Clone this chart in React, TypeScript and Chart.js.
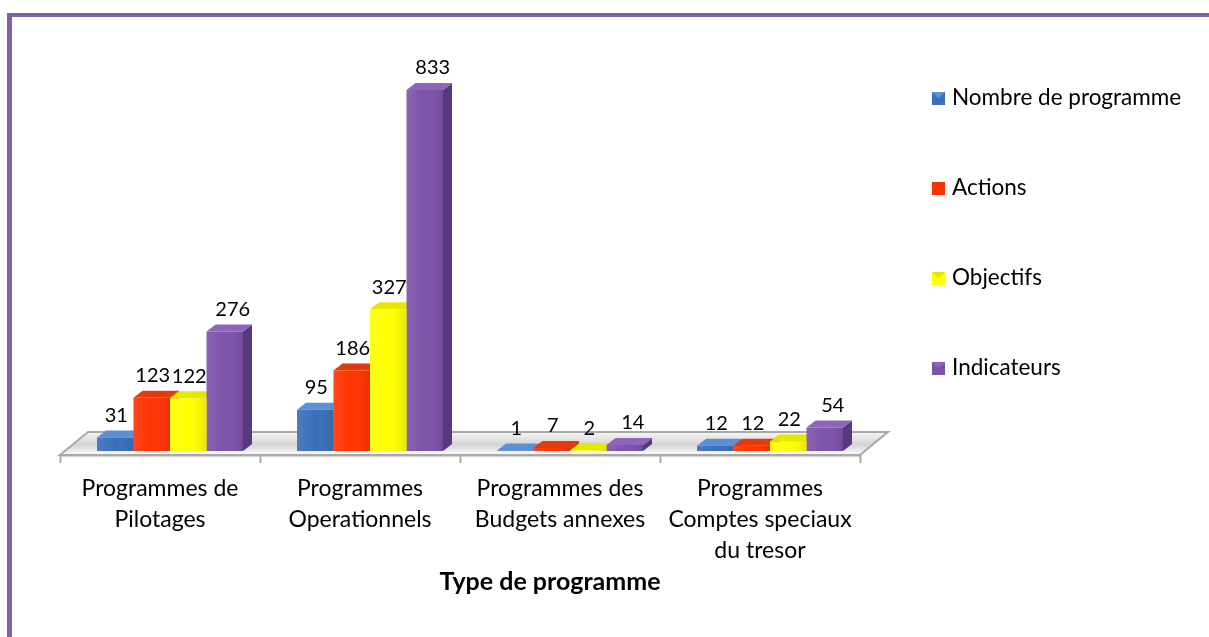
import React, { useEffect, useRef } from "react";
import { Chart, registerables } from "chart.js";

Chart.register(...registerables);

const categories: string[][] = [
  ["Programmes de", "Pilotages"],
  ["Programmes", "Operationnels"],
  ["Programmes des", "Budgets annexes"],
  ["Programmes", "Comptes speciaux", "du tresor"],
];
const seriesNames = ["Nombre de programme", "Actions", "Objectifs", "Indicateurs"];
const nombreDeProgramme = [31, 95, 1, 12];
const actions = [123, 186, 7, 12];
const objectifs = [122, 327, 2, 22];
const indicateurs = [276, 833, 14, 54];
const axisTitle = "Type de programme";

const frontColors = ["#3A6FB9", "#FF3300", "#FFFF00", "#7C53A8"];
const topColors = ["#5C8FD6", "#E23A0C", "#E6E600", "#8D66BC"];
const sideColors = ["#2A5594", "#C42A00", "#C8C800", "#553A7E"];

const FONT = "Lato, 'Open Sans', 'DejaVu Sans', sans-serif";
const DX = 9;
const DY = 7;
const SHIFT = 10;

const threeD = {
  id: "threeD",
  beforeDatasetsDraw(chart: any) {
    const { ctx, chartArea, scales } = chart;
    const x = scales.x;
    const b = chartArea.bottom;
    const left = chartArea.left - SHIFT;
    const right = chartArea.right - SHIFT;
    const fy = b + 4;
    const by = b - 19;
    const bdx = 28;
    ctx.save();
    const g = ctx.createLinearGradient(0, by, 0, fy);
    g.addColorStop(0, "#f6f6f6");
    g.addColorStop(0.55, "#d4d4d4");
    g.addColorStop(1, "#fcfcfc");
    ctx.beginPath();
    ctx.moveTo(left, fy);
    ctx.lineTo(right, fy);
    ctx.lineTo(right + bdx, by);
    ctx.lineTo(left + bdx, by);
    ctx.closePath();
    ctx.fillStyle = g;
    ctx.fill();
    ctx.strokeStyle = "#a8a8a8";
    ctx.lineWidth = 2;
    ctx.stroke();
    ctx.beginPath();
    ctx.moveTo(left, fy + 0.5);
    ctx.lineTo(right, fy + 0.5);
    const n = x.ticks.length;
    const w = (chartArea.right - chartArea.left) / n;
    for (let i = 0; i <= n; i++) {
      const tx = Math.round(left + i * w) + 0.5;
      ctx.moveTo(tx, fy);
      ctx.lineTo(tx, fy + 8);
    }
    ctx.strokeStyle = "#a8a8a8";
    ctx.lineWidth = 2;
    ctx.stroke();

    const nd = chart.data.datasets.length;
    const ncat = chart.data.labels.length;
    for (let i = 0; i < ncat; i++) {
      for (let d = 0; d < nd; d++) {
        const el: any = chart.getDatasetMeta(d).data[i];
        if (!el) continue;
        const l = el.x - el.width / 2;
        const r = el.x + el.width / 2;
        const y = el.y;
        const base = el.base;
        ctx.beginPath();
        ctx.moveTo(r, y);
        ctx.lineTo(r + DX, y - DY);
        ctx.lineTo(r + DX, base - DY);
        ctx.lineTo(r, base);
        ctx.closePath();
        ctx.fillStyle = sideColors[d];
        ctx.fill();
        ctx.beginPath();
        ctx.moveTo(l, y);
        ctx.lineTo(r, y);
        ctx.lineTo(r + DX, y - DY);
        ctx.lineTo(l + DX, y - DY);
        ctx.closePath();
        ctx.fillStyle = topColors[d];
        ctx.fill();
      }
    }
    ctx.restore();
  },
  afterDatasetsDraw(chart: any) {
    const { ctx } = chart;
    ctx.save();
    // subtle shading on front faces
    chart.data.datasets.forEach((_ds: any, d: number) => {
      chart.getDatasetMeta(d).data.forEach((el: any) => {
        const l = el.x - el.width / 2;
        const h = el.base - el.y;
        if (h <= 0) return;
        const gr = ctx.createLinearGradient(l, 0, l + el.width, 0);
        gr.addColorStop(0, "rgba(255,255,255,0.10)");
        gr.addColorStop(0.5, "rgba(255,255,255,0)");
        gr.addColorStop(1, "rgba(0,0,0,0.10)");
        ctx.fillStyle = gr;
        ctx.fillRect(l, el.y, el.width, h);
      });
    });
    ctx.font = `20px ${FONT}`;
    ctx.fillStyle = "#000";
    ctx.textAlign = "center";
    ctx.textBaseline = "middle";
    chart.data.datasets.forEach((ds: any, d: number) => {
      chart.getDatasetMeta(d).data.forEach((el: any, i: number) => {
        const off = d === 3 ? 8 : 1;
        ctx.fillText(String(ds.data[i]), el.x + off, el.y - 22);
      });
    });
    ctx.restore();
  },
  afterDraw(chart: any) {
    const { ctx } = chart;
    ctx.save();
    ctx.font = `22.5px ${FONT}`;
    ctx.textAlign = "left";
    ctx.textBaseline = "middle";
    chart.data.datasets.forEach((ds: any, d: number) => {
      const cy = 98 + d * 90;
      const bx = 932;
      const by = cy - 6;
      ctx.fillStyle = frontColors[d];
      ctx.fillRect(bx, by, 13, 13);
      ctx.fillStyle = topColors[d];
      ctx.beginPath();
      ctx.moveTo(bx, by);
      ctx.lineTo(bx + 13, by);
      ctx.lineTo(bx + 6.5, by + 6.5);
      ctx.closePath();
      ctx.fill();
      ctx.fillStyle = "#000";
      ctx.fillText(ds.label, 952, cy);
    });
    // axis title
    ctx.font = `bold 25px ${FONT}`;
    ctx.textAlign = "center";
    ctx.fillText(axisTitle, 550, 582);
    ctx.restore();
  },
};

export default function App() {
  const ref = useRef<HTMLCanvasElement | null>(null);
  useEffect(() => {
    if (!ref.current) return;
    const seriesValues = [nombreDeProgramme, actions, objectifs, indicateurs];
    const chart = new Chart(ref.current, {
      type: "bar",
      data: {
        labels: categories,
        datasets: seriesValues.map((vals, d) => ({
          label: seriesNames[d],
          data: vals,
          backgroundColor: frontColors[d],
          borderWidth: 0,
          categoryPercentage: 0.73,
          barPercentage: 1.0,
        })),
      },
      options: {
        responsive: false,
        animation: false,
        devicePixelRatio: 1,
        layout: { padding: { left: 70, right: 339, top: 61, bottom: 0 } },
        plugins: {
          legend: { display: false },
          tooltip: { enabled: false },
          title: { display: false },
        },
        scales: {
          y: { display: false, min: 0, max: 900 },
          x: {
            grid: { display: false, drawTicks: false },
            border: { display: false },
            ticks: {
              padding: 22,
              labelOffset: -SHIFT,
              autoSkip: false,
              maxRotation: 0,
              color: "#000",
              font: { family: FONT, size: 23, lineHeight: 1.35 },
            },
            title: { display: false },
            afterFit: (scale: any) => {
              scale.height = 186;
            },
          },
        },
      } as any,
      plugins: [threeD],
    });
    return () => chart.destroy();
  }, []);
  return (
    <div style={{ position: "fixed", left: 0, top: 0, width: 1209, height: 637, background: "#fff", overflow: "hidden" }}>
      <canvas ref={ref} width={1209} height={637} style={{ display: "block", position: "absolute", left: 0, top: 0 }} />
      <div
        style={{
          position: "absolute",
          left: 7,
          top: 13,
          right: -20,
          bottom: -20,
          borderTop: "4px solid #8064A2",
          borderLeft: "5px solid #8064A2",
          pointerEvents: "none",
        }}
      />
    </div>
  );
}
